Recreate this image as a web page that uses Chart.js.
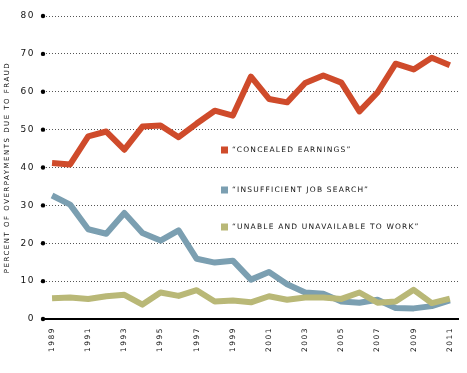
<!DOCTYPE html>
<html>
<head>
<meta charset="utf-8">
<script src="https://cdn.jsdelivr.net/npm/chart.js@4.4.0/dist/chart.umd.min.js"></script>
<style>
  html, body { margin: 0; padding: 0; background: #fff; }
  #wrap { width: 467px; height: 373px; }
</style>
</head>
<body>
<div id="wrap"><canvas id="fraudChart" width="467" height="373"></canvas></div>
<script>
const years = ['1989','1990','1991','1992','1993','1994','1995','1996','1997','1998','1999','2000',
               '2001','2002','2003','2004','2005','2006','2007','2008','2009','2010','2011'];
const concealedEarnings = [41.2, 40.8, 48.2, 49.5, 44.7, 50.8, 51.1, 48.0, 51.6, 55.0, 53.7, 64.0,
                           58.1, 57.2, 62.3, 64.3, 62.4, 54.8, 59.8, 67.4, 65.9, 69.0, 67.0];
const jobSearch = [32.6, 30.2, 23.7, 22.5, 28.0, 22.7, 20.7, 23.4, 15.9, 14.9, 15.4, 10.4,
                   12.4, 9.2, 7.0, 6.7, 4.6, 4.3, 5.1, 2.9, 2.8, 3.4, 4.9];
const unableToWork = [5.5, 5.7, 5.3, 6.0, 6.4, 3.8, 7.0, 6.1, 7.6, 4.6, 4.9, 4.4,
                      6.0, 5.1, 5.7, 5.7, 5.3, 7.0, 4.3, 4.6, 7.7, 4.2, 5.4];
const seriesNames = ['\u201cCONCEALED EARNINGS\u201d', '\u201cINSUFFICIENT JOB SEARCH\u201d', '\u201cUNABLE AND UNAVAILABLE TO WORK\u201d'];
const yTicks = [0, 10, 20, 30, 40, 50, 60, 70, 80];

const colors = ['#cf4b2b', '#7b9fb1', '#b9b877'];
const labelFont = '"DejaVu Sans", sans-serif';

// wide, spaced-out lettering like the original
const spacing = {
    id: 'spacing',
    beforeLayout(chart) { chart.ctx.letterSpacing = '1.5px'; },
    beforeDraw(chart) { chart.ctx.letterSpacing = '1.5px'; }
};

// black dots at each y tick + in-plot legend
const extras = {
    id: 'extras',
    afterDraw(chart) {
        const ctx = chart.ctx;
        const y = chart.scales.y;
        const left = chart.chartArea.left;
        ctx.save();
        ctx.fillStyle = '#000';
        yTicks.forEach(v => {
            ctx.beginPath();
            ctx.arc(left, y.getPixelForValue(v), 2.2, 0, Math.PI * 2);
            ctx.fill();
        });
        const legendX = 221;
        const legendY = [150, 190, 227];
        ctx.font = '7.5px ' + labelFont;
        ctx.letterSpacing = '1.2px';
        ctx.textBaseline = 'middle';
        seriesNames.forEach((name, i) => {
            ctx.fillStyle = colors[i];
            ctx.fillRect(legendX, legendY[i] - 3.5, 7, 7);
            ctx.fillStyle = '#111';
            ctx.fillText(name, legendX + 11, legendY[i] + 0.5);
        });
        ctx.restore();
    }
};

const ctx = document.getElementById('fraudChart').getContext('2d');
new Chart(ctx, {
    type: 'line',
    data: {
        labels: years,
        datasets: [
            { label: seriesNames[0], data: concealedEarnings, borderColor: colors[0], order: 2 },
            { label: seriesNames[1], data: jobSearch, borderColor: colors[1], order: 1 },
            { label: seriesNames[2], data: unableToWork, borderColor: colors[2], order: 0 }
        ]
    },
    options: {
        responsive: false,
        animation: false,
        devicePixelRatio: 1,
        layout: { padding: { top: 16, right: 8, left: 0, bottom: 0 } },
        elements: {
            line: { borderWidth: 6, tension: 0, borderJoinStyle: 'round', borderCapStyle: 'butt' },
            point: { radius: 0, hoverRadius: 0 }
        },
        plugins: { legend: { display: false }, tooltip: { enabled: false } },
        scales: {
            x: {
                type: 'category',
                offset: true,
                grid: { display: false, drawTicks: false },
                border: { display: true, color: '#000', width: 2 },
                ticks: {
                    autoSkip: false,
                    minRotation: 90,
                    maxRotation: 90,
                    padding: 8,
                    color: '#111',
                    font: { family: labelFont, size: 7.5 },
                    callback: function(val, idx) { return idx % 2 === 0 ? years[idx] : ''; }
                },
                afterFit(scale) { scale.height = 54; }
            },
            y: {
                min: 0,
                max: 80,
                afterBuildTicks(scale) { scale.ticks = yTicks.map(v => ({ value: v })); },
                grid: { color: '#555', lineWidth: 1, drawTicks: false },
                border: { display: false, dash: [1, 2] },
                ticks: {
                    padding: 8,
                    color: '#111',
                    font: { family: labelFont, size: 9 }
                },
                title: {
                    display: true,
                    text: 'PERCENT OF OVERPAYMENTS DUE TO FRAUD',
                    color: '#111',
                    font: { family: labelFont, size: 7 },
                    padding: { top: 3, bottom: 0 }
                },
                afterFit(scale) { scale.width = 43; }
            }
        }
    },
    plugins: [spacing, extras]
});
</script>
</body>
</html>
